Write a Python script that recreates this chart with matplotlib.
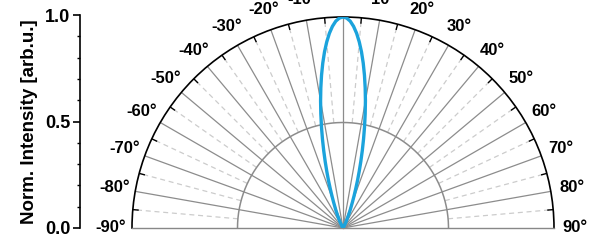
import numpy as np
import matplotlib.pyplot as plt

plt.rcParams['font.family'] = ['Liberation Sans', 'DejaVu Sans']
plt.rcParams['font.weight'] = 'bold'

angle = [-40, -35, -30, -28, -26, -24, -22, -20, -19, -18, -17, -16, -15, -14, -13,
         -12, -11, -10, -9, -8, -7, -6, -5, -4, -3, -2, -1, 0,
         1, 2, 3, 4, 5, 6, 7, 8, 9, 10, 11, 12, 13, 14, 15, 16, 17, 18, 19, 20,
         22, 24, 26, 28, 30, 35, 40]
intensity = [0.0, 0.002, 0.010, 0.019, 0.033, 0.055, 0.089, 0.131, 0.161, 0.195, 0.235,
             0.278, 0.326, 0.378, 0.433, 0.491, 0.551, 0.612, 0.672, 0.731, 0.787,
             0.839, 0.885, 0.925, 0.957, 0.981, 0.995, 1.0,
             0.995, 0.981, 0.957, 0.925, 0.885, 0.839, 0.787, 0.731, 0.672, 0.612,
             0.551, 0.491, 0.433, 0.378, 0.326, 0.278, 0.235, 0.195, 0.161, 0.131,
             0.089, 0.055, 0.033, 0.019, 0.010, 0.002, 0.0]

major_angles = np.arange(-90, 91, 10)
minor_angles = np.arange(-85, 90, 10)

fig = plt.figure(figsize=(5.98, 2.4), dpi=100)

# polar half-plot (square box, wedge gets centred inside it)
ax = fig.add_axes([132/598, -93.5/240, 422/598, 422/240], projection='polar')
ax.set_theta_zero_location('N')
ax.set_theta_direction(-1)
ax.set_thetamin(-90)
ax.set_thetamax(90)
ax.set_ylim(0, 1)
ax.grid(False)
ax.set_xticks([])
ax.set_yticks([])
ax.spines['polar'].set_linewidth(1.2)
ax.spines['start'].set_color('#888888')
ax.spines['end'].set_color('#888888')
ax.spines['start'].set_linewidth(1.0)
ax.spines['end'].set_linewidth(1.0)

# radial grid
for a in major_angles[1:-1]:
    ax.plot([np.radians(a)] * 2, [0, 1], color='#8c8c8c', lw=0.9, zorder=1)
for a in minor_angles:
    ax.plot([np.radians(a)] * 2, [0.5, 1], color='#cccccc', lw=0.9, ls=(0, (4, 3)), zorder=1)
    ax.plot([np.radians(a)] * 2, [0.975, 1], color='black', lw=1.0, zorder=3)
th = np.radians(np.linspace(-90, 90, 200))
ax.plot(th, np.full_like(th, 0.5), color='#8c8c8c', lw=1.1, zorder=1)

ax.plot(np.radians(angle), intensity, color='#1ba3dc', lw=2.4, zorder=4)

for a in major_angles:
    ax.text(np.radians(a), 1.1, f'{a}°', ha='center', va='center', fontsize=12,
            fontweight='bold', clip_on=False)

# left linear intensity axis
ay = fig.add_axes([80/598, 12/240, 0.01, 213/240])
ay.set_ylim(0, 1)
ay.set_yticks([0.0, 0.5, 1.0])
ay.set_yticklabels(['0.0', '0.5', '1.0'])
ay.set_yticks(np.arange(0, 1.01, 0.1), minor=True)
ay.set_xticks([])
ay.patch.set_alpha(0)
for s in ['top', 'right', 'bottom']:
    ay.spines[s].set_visible(False)
ay.spines['left'].set_linewidth(1.2)
ay.tick_params(axis='y', which='major', length=5, width=1.2, labelsize=13, pad=2)
ay.tick_params(axis='y', which='minor', length=2.5, width=1.0)
ay.set_ylabel('Norm. Intensity [arb.u.]', fontsize=13.5, fontweight='bold', labelpad=5)

fig.savefig('out.png', dpi=100)
